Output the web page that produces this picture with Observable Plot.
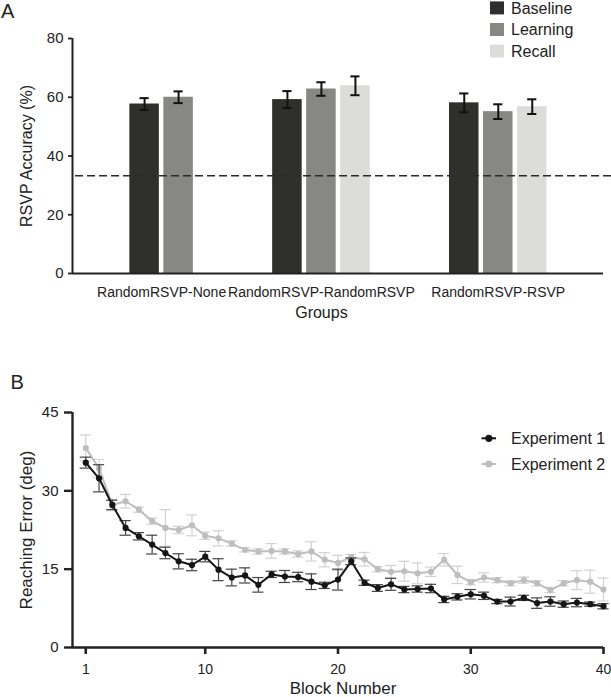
<!DOCTYPE html>
<html>
<head>
<meta charset="utf-8">
<script src="https://cdn.jsdelivr.net/npm/d3@7"></script>
<script src="https://cdn.jsdelivr.net/npm/@observablehq/plot@0.6"></script>
<style>
  html, body { margin: 0; padding: 0; background: #ffffff; }
  #wrap { position: relative; width: 611px; height: 697px; overflow: hidden; background: #ffffff;
          font-family: "Liberation Sans", Arial, Helvetica, sans-serif; color: #222; }
  #wrap > * { position: absolute; }
  #wrap svg { max-width: none; overflow: visible; }
</style>
</head>
<body>
<div id="wrap"></div>
<script>
// ---------- Panel A data ----------
const groups = ["RandomRSVP-None", "RandomRSVP-RandomRSVP", "RandomRSVP-RSVP"];
const conditions = ["Baseline", "Learning", "Recall"];
const conditionColors = ["#2f2f2d", "#878884", "#dcdcdb"];
const groupConditions = [["Baseline", "Learning"], ["Baseline", "Learning", "Recall"], ["Baseline", "Learning", "Recall"]];
const accuracyMean = [[57.7, 60.0], [59.2, 62.8, 63.9], [58.1, 55.1, 56.8]];
const accuracySE = [[2.0, 2.0], [2.9, 2.3, 3.2], [3.2, 2.5, 2.5]];
const chanceLevel = 33.3;
const accuracyTicks = [0, 20, 40, 60, 80];

// ---------- Panel B data ----------
const blocks = [1,2,3,4,5,6,7,8,9,10,11,12,13,14,15,16,17,18,19,20,21,22,23,24,25,26,27,28,29,30,31,32,33,34,35,36,37,38,39,40];
const exp1Mean = [35.4,32.4,27.3,22.9,21.3,19.7,18.1,16.5,15.8,17.4,14.9,13.4,13.8,12.0,14.0,13.6,13.5,12.6,11.9,13.0,16.5,12.4,11.4,12.1,11.1,11.2,11.3,9.2,9.7,10.2,9.9,8.8,8.8,9.5,8.5,8.8,8.3,8.6,8.3,7.9];
const exp1SE = [1.05,2.6,0.9,1.4,0.7,1.8,1.1,1.45,1.1,1.0,2.1,1.6,1.45,1.4,0.6,1.15,0.9,1.5,0.6,2.0,0.65,0.5,0.65,1.15,0.6,0.6,0.8,0.6,0.6,0.9,0.7,0.4,0.85,0.5,1.0,0.9,0.6,0.8,0.4,0.5];
const exp2Mean = [38.2,34.3,27.3,28.0,26.4,24.2,22.9,22.5,23.4,21.4,20.9,19.9,18.7,18.4,18.5,18.4,17.9,18.4,16.8,16.2,17.3,16.9,15.0,14.5,14.6,14.2,14.5,16.8,13.9,12.5,13.4,12.9,12.3,12.9,12.3,11.0,12.3,12.9,12.6,11.1];
const exp2SE = [2.5,1.7,1.1,1.3,0.5,0.6,3.5,0.7,2.0,0.7,1.45,0.5,0.4,0.5,1.4,0.5,0.6,1.85,1.35,1.45,0.5,1.3,0.5,1.2,1.9,2.0,0.9,1.2,1.65,0.5,0.9,0.5,0.5,0.6,0.5,0.5,0.5,1.8,2.2,2.2];
const experiments = ["Experiment 1", "Experiment 2"];
const experimentColors = ["#151515", "#bebebe"];
const experimentErrorColors = ["#444444", "#d2d2d2"];
const blockTicks = [1, 10, 20, 30, 40];
const errorTicks = [0, 15, 30, 45];

// ---------- shared style ----------
const FONT = '"Liberation Sans", Arial, Helvetica, sans-serif';
const INK = "#222222";
const wrap = document.getElementById("wrap");

// ---------- Panel A ----------
const GROUP_GAP = 2.2, HALF = 0.434, CAP_A = 0.135;
const barRows = [];
{
  let p = 0;
  groups.forEach((g, gi) => {
    groupConditions[gi].forEach((c, ci) => {
      barRows.push({group: g, condition: c, mean: accuracyMean[gi][ci], se: accuracySE[gi][ci], pos: p});
      p += 1;
    });
    p += GROUP_GAP;
  });
}
const groupCenters = groups.map(g => d3.mean(barRows.filter(d => d.group === g), d => d.pos));

const plotA = Plot.plot({
  width: 611, height: 330,
  marginLeft: 72, marginRight: 0, marginTop: 38, marginBottom: 57,
  style: {fontFamily: FONT, color: INK, background: "transparent", overflow: "visible"},
  x: {type: "linear", domain: [-2.12, 13.73]},
  y: {domain: [0, 80]},
  color: {domain: conditions, range: conditionColors},
  marks: [
    Plot.rectY(barRows, {x1: d => d.pos - HALF, x2: d => d.pos + HALF, y1: 0, y2: "mean", fill: "condition"}),
    Plot.ruleY([chanceLevel], {stroke: "#2a2a2a", strokeWidth: 1.5, strokeDasharray: "8,4", insetLeft: 3}),
    Plot.ruleX(barRows, {x: "pos", y1: d => d.mean - d.se, y2: d => d.mean + d.se, stroke: "#111", strokeWidth: 2}),
    Plot.ruleY(barRows, {y: d => d.mean + d.se, x1: d => d.pos - CAP_A, x2: d => d.pos + CAP_A, stroke: "#111", strokeWidth: 2}),
    Plot.ruleY(barRows, {y: d => d.mean - d.se, x1: d => d.pos - CAP_A, x2: d => d.pos + CAP_A, stroke: "#111", strokeWidth: 2}),
    Plot.ruleY([0], {stroke: INK, strokeWidth: 2, insetRight: 8}),
    Plot.ruleX([-2.12], {stroke: INK, strokeWidth: 2}),
    Plot.axisY(accuracyTicks, {tickSize: 4, tickPadding: 5, fontSize: 15, strokeWidth: 1.8, label: null}),
    Plot.axisX(groupCenters, {tickSize: 0, tickPadding: 14, fontSize: 14, label: null,
      tickFormat: d => groups[groupCenters.indexOf(d)]}),
    Plot.text(["Groups"], {x: groupCenters[1], frameAnchor: "bottom", dy: 39, lineAnchor: "middle", textAnchor: "middle", fontSize: 16, fill: INK}),
    Plot.text(["RSVP Accuracy (%)"], {frameAnchor: "left", rotate: -90, dx: -45.5, lineAnchor: "middle", textAnchor: "middle", fontSize: 16, fill: INK})
  ]
});
plotA.style.left = "0px"; plotA.style.top = "0px";
wrap.appendChild(plotA);

// ---------- Panel B ----------
const CAP_B = 0.42;
const rowsB = [];
experiments.forEach((e, ei) => {
  const m = ei === 0 ? exp1Mean : exp2Mean;
  const s = ei === 0 ? exp1SE : exp2SE;
  blocks.forEach((b, i) => rowsB.push({experiment: e, block: b, mean: m[i], se: s[i]}));
});
const exp1Rows = rowsB.filter(d => d.experiment === experiments[0]);
const exp2Rows = rowsB.filter(d => d.experiment === experiments[1]);

function seriesMarks(rows, ei) {
  const lineC = experimentColors[ei], errC = experimentErrorColors[ei];
  return [
    Plot.ruleX(rows, {x: "block", y1: d => d.mean - d.se, y2: d => d.mean + d.se, stroke: errC, strokeWidth: 1.2}),
    Plot.ruleY(rows, {y: d => d.mean + d.se, x1: d => d.block - CAP_B, x2: d => d.block + CAP_B, stroke: errC, strokeWidth: 1.2}),
    Plot.ruleY(rows, {y: d => d.mean - d.se, x1: d => d.block - CAP_B, x2: d => d.block + CAP_B, stroke: errC, strokeWidth: 1.2}),
    Plot.line(rows, {x: "block", y: "mean", stroke: lineC, strokeWidth: 2}),
    Plot.dot(rows, {x: "block", y: "mean", r: 3.1, fill: lineC, stroke: "none"})
  ];
}

const plotB = Plot.plot({
  width: 611, height: 327,
  marginLeft: 72, marginRight: 8, marginTop: 42, marginBottom: 50,
  style: {fontFamily: FONT, color: INK, background: "transparent", overflow: "visible"},
  x: {domain: [0, 40]},
  y: {domain: [0, 45]},
  marks: [
    ...seriesMarks(exp2Rows, 1),
    ...seriesMarks(exp1Rows, 0),
    Plot.ruleY([0], {stroke: INK, strokeWidth: 2.4}),
    Plot.ruleX([0], {stroke: INK, strokeWidth: 2.4}),
    Plot.axisY(errorTicks, {tickSize: 8, tickPadding: 6, fontSize: 15, strokeWidth: 2.4, label: null}),
    Plot.axisX(blockTicks, {tickSize: 7, tickPadding: 9.5, fontSize: 14, strokeWidth: 2.6, label: null}),
    Plot.text(["Block Number"], {frameAnchor: "bottom", dx: 5, dy: 41.5, lineAnchor: "middle", textAnchor: "middle", fontSize: 17, fill: INK}),
    Plot.text(["Reaching Error (deg)"], {frameAnchor: "left", rotate: -90, dx: -45.5, lineAnchor: "middle", textAnchor: "middle", fontSize: 17, fill: INK})
  ]
});
plotB.style.left = "0px"; plotB.style.top = "370px";
wrap.appendChild(plotB);

// ---------- Legends and panel letters ----------
const overlay = d3.create("svg")
  .attr("width", 611).attr("height", 697)
  .style("left", "0px").style("top", "0px")
  .style("font-family", FONT).style("pointer-events", "none");

// Panel A legend
const legA = overlay.append("g");
conditions.forEach((c, i) => {
  const cy = 7.9 + i * 21.6;
  legA.append("rect").attr("x", 490).attr("y", cy - 6.5).attr("width", 14).attr("height", 13).attr("fill", conditionColors[i]);
  legA.append("text").attr("x", 511).attr("y", cy + 5.7).attr("font-size", 16).attr("fill", INK).text(c);
});

// Panel B legend
const legB = overlay.append("g");
experiments.forEach((e, i) => {
  const cy = 438.3 + i * 25.7;
  legB.append("line").attr("x1", 481.5).attr("x2", 496).attr("y1", cy).attr("y2", cy)
    .attr("stroke", experimentColors[i]).attr("stroke-width", 2);
  legB.append("circle").attr("cx", 488.8).attr("cy", cy).attr("r", 3.6).attr("fill", experimentColors[i]);
  legB.append("text").attr("x", 511).attr("y", cy + 5.7).attr("font-size", 16).attr("fill", INK).text(e);
});

// Panel letters
overlay.append("text").attr("x", 1).attr("y", 18.3).attr("font-size", 20).attr("fill", INK).text("A");
overlay.append("text").attr("x", 10.5).attr("y", 389.3).attr("font-size", 20).attr("fill", INK).text("B");

wrap.appendChild(overlay.node());
</script>
</body>
</html>
